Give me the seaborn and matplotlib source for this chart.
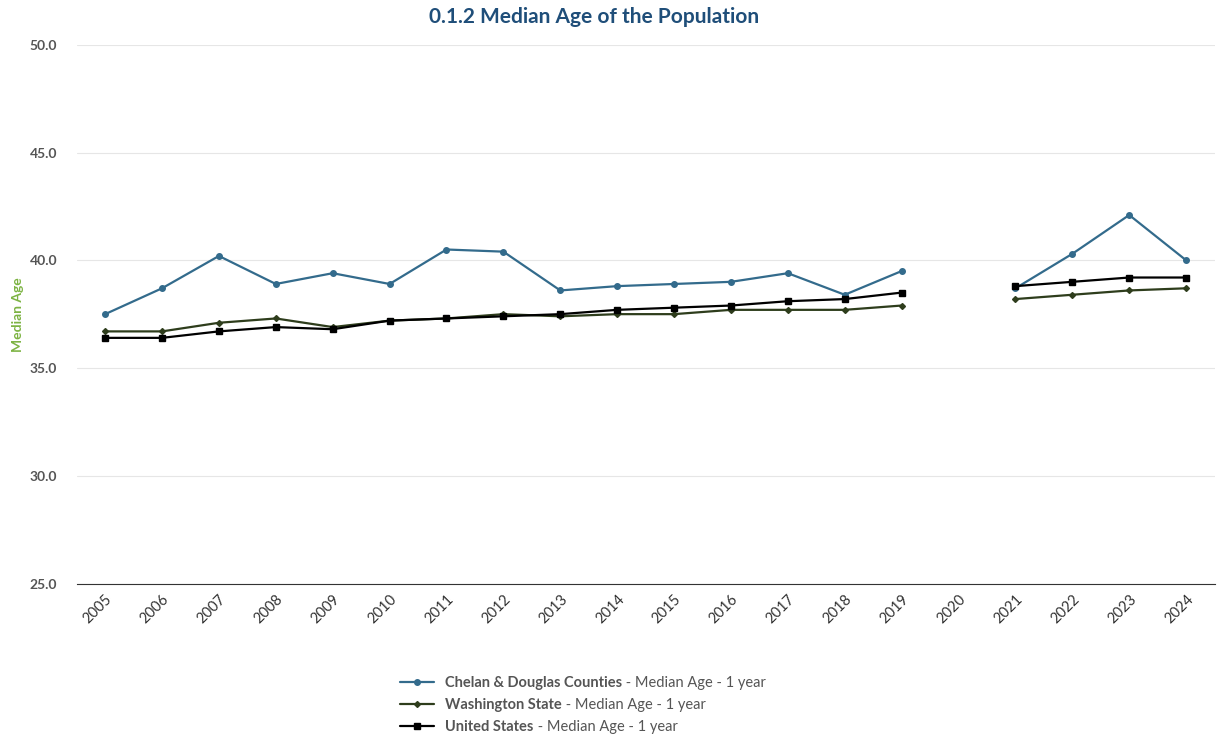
import matplotlib
matplotlib.use("Agg")
import matplotlib.pyplot as plt
import seaborn as sns
import pandas as pd
import numpy as np

sns.set_style("white")
plt.rcParams['font.family'] = ['Lato', 'DejaVu Sans']

years = list(range(2005, 2025))
chelan = [37.5, 38.7, 40.2, 38.9, 39.4, 38.9, 40.5, 40.4, 38.6, 38.8, 38.9, 39.0, 39.4, 38.4, 39.5,
          np.nan, 38.7, 40.3, 42.1, 40.0]
washington = [36.7, 36.7, 37.1, 37.3, 36.9, 37.2, 37.3, 37.5, 37.4, 37.5, 37.5, 37.7, 37.7, 37.7, 37.9,
              np.nan, 38.2, 38.4, 38.6, 38.7]
usa = [36.4, 36.4, 36.7, 36.9, 36.8, 37.2, 37.3, 37.4, 37.5, 37.7, 37.8, 37.9, 38.1, 38.2, 38.5,
       np.nan, 38.8, 39.0, 39.2, 39.2]

names = ["Chelan & Douglas Counties", "Washington State", "United States"]
colors = ["#336b8c", "#2e3d1c", "#000000"]
markers = ["o", "D", "s"]
msizes = [4, 3, 5]

fig = plt.figure(figsize=(12.17, 7.34), dpi=100)
ax = fig.add_axes([0.063, 0.205, 0.935, 0.734])

x = np.arange(len(years))
for vals, name, c, m, ms in zip([chelan, washington, usa], names, colors, markers, msizes):
    df = pd.DataFrame({"x": x, "y": vals})
    ax.plot(df["x"], df["y"], color=c, marker=m, markersize=ms, linewidth=1.6, label=name)

ax.set_xlim(-0.5, len(years) - 0.5)
ax.set_ylim(25, 50)
ax.set_yticks([25, 30, 35, 40, 45, 50])
ax.set_yticklabels([f"{v:.1f}" for v in [25, 30, 35, 40, 45, 50]], color="#555555", fontsize=10, fontweight="bold")
ax.set_xticks(x)
ax.set_xticklabels([str(y) for y in years], rotation=45, ha="right", rotation_mode="anchor", fontsize=10.5, color="#333333")
ax.tick_params(axis="y", length=0, pad=14)
ax.tick_params(axis="x", length=0, pad=6)
ax.grid(axis="y", color="#e6e6e6", linewidth=0.8)
for s in ["top", "right", "left"]:
    ax.spines[s].set_visible(False)
ax.spines["bottom"].set_color("#333333")
ax.set_ylabel("Median Age", color="#7cb342", fontsize=10, fontweight="bold", labelpad=4)
ax.set_title("0.1.2 Median Age of the Population", color="#1f4e79", fontsize=15, fontweight="bold", pad=16,
             x=0.455)

leg = fig.legend(loc="lower center", bbox_to_anchor=(0.42, -0.018), frameon=False, ncol=1,
                 prop={"weight": "bold", "size": 10.5}, handlelength=2.3, labelspacing=0.55)
for t in leg.get_texts():
    t.set_color("#555555")
fig.canvas.draw()
r = fig.canvas.get_renderer()
for t in leg.get_texts():
    bb = t.get_window_extent(r)
    fig.text(bb.x1 / fig.bbox.width, (bb.y0 + bb.y1) / 2 / fig.bbox.height, " - Median Age - 1 year",
             color="#555555", fontsize=10.5, va="center", ha="left")

fig.savefig("out.png", dpi=100)
